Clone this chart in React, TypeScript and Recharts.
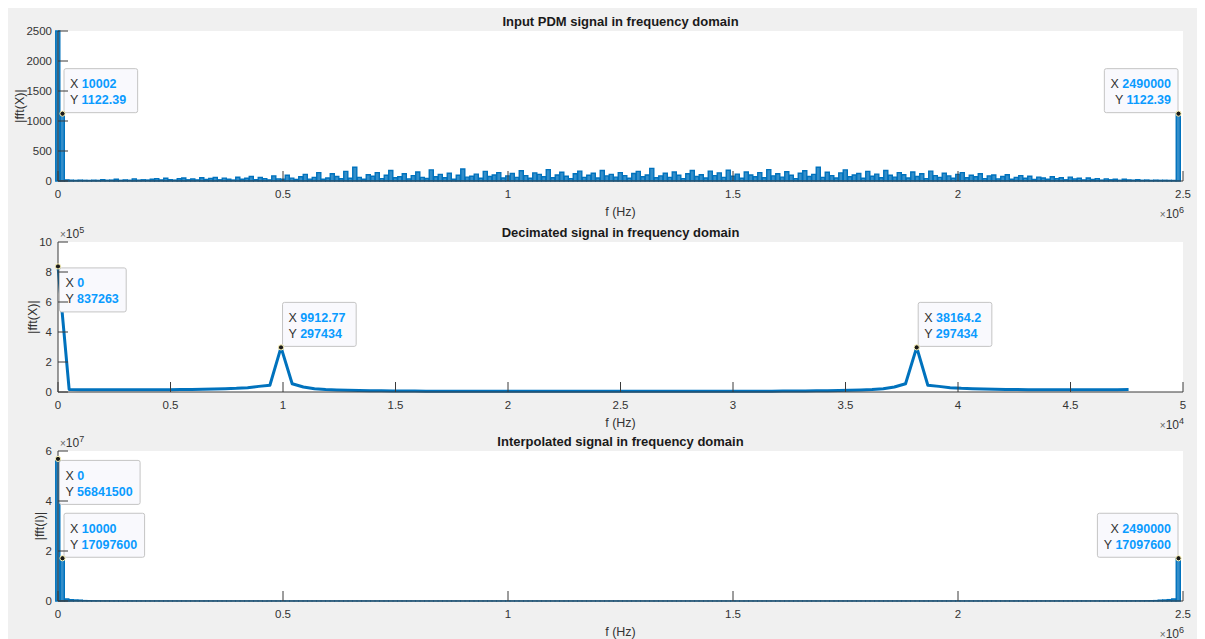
import { Bar, ComposedChart, Line, ReferenceDot, XAxis, YAxis } from "recharts";

// Input PDM spectrum, one bin every 10 kHz (0 .. 2.49 MHz)
const PDM_BIN_HZ = 10000;
const pdmMag = [
  2500, 1122.39, 18, 12, 10, 14, 11, 9, 13, 10,
  22, 12, 15, 30, 11, 18, 12, 35, 14, 20,
  16, 28, 40, 18, 45, 22, 15, 38, 50, 20,
  34, 18, 55, 25, 42, 60, 20, 48, 30, 16,
  62, 28, 45, 75, 22, 58, 40, 18, 85, 35,
  30, 95, 48, 25, 70, 110, 32, 60, 140, 28,
  50, 120, 75, 38, 160, 45, 230, 60, 30, 105,
  80, 140, 40, 95, 175, 55, 70, 120, 35, 90,
  150, 60, 42, 185, 70, 110, 55, 130, 30, 95,
  200, 65, 80, 115, 45, 160, 75, 100, 140, 50,
  85, 125, 60, 170, 90, 45, 135, 110, 70, 190,
  55, 100, 145, 80, 40, 120, 165, 60, 95, 130,
  50, 175, 85, 110, 65, 140, 90, 45, 125, 160,
  70, 100, 210, 55, 85, 130, 60, 150, 95, 40,
  120, 175, 75, 105, 50, 165, 90, 135, 60, 180,
  80, 115, 45, 150, 100, 70, 140, 55, 190, 85,
  120, 65, 155, 95, 40, 130, 170, 75, 110, 230,
  60, 145, 90, 50, 135, 185, 70, 100, 125, 45,
  160, 80, 115, 55, 175, 95, 65, 140, 105, 50,
  150, 75, 120, 40, 165, 90, 60, 130, 85, 45,
  110, 140, 55, 95, 70, 120, 40, 85, 100, 35,
  75, 105, 30, 60, 90, 45, 80, 25, 65, 50,
  30, 70, 40, 55, 20, 65, 35, 45, 18, 50,
  25, 40, 15, 35, 20, 30, 12, 28, 18, 14,
  22, 12, 16, 10, 14, 11, 12, 10, 9, 1122.39,
];

// Decimated spectrum, 97 bins
const DEC_BIN_HZ = 9912.77 / 20;
const decMag = [
  837263,
  17000, 15500, 15000, 14700, 14600, 14600, 14700, 14900, 15200, 15600,
  16100, 16800, 17800, 19200, 21200, 24200, 29000, 37500, 45000, 297434,
  55000, 33000, 22000, 16500, 13200, 11000, 9500, 8400, 7600, 7000,
  6500, 6100, 5800, 5500, 5300, 5100, 5000, 4900, 4800, 4700,
  4600, 4550, 4500, 4450, 4420, 4400, 4390, 4385,
  4385, 4390, 4400, 4420, 4450, 4500, 4550, 4600,
  4700, 4800, 4900, 5000, 5100, 5300, 5500, 5800, 6100, 6500,
  7000, 7600, 8400, 9500, 11000, 13200, 16500, 22000, 33000, 55000,
  297434,
  45000, 37500, 29000, 24200, 21200, 19200, 17800, 16800, 16100,
  15600, 15200, 14900, 14700, 14600, 14600, 14700, 15000, 15500, 17000,
];

// Interpolated spectrum, same 10 kHz bins as the input
const intMag = [
  56841500, 17097600, 820000, 540000, 410000, 330000, 160000, 120000, 95000, 82000,
  74000, 68000, 64000, 60000, 57000, 55000, 53000, 51000, 50000, 49000,
  48000, 46000, 47000, 44000, 45000, 43000, 46000, 42000, 44000, 41000,
  43000, 40000, 42000, 44000, 39000, 41000, 43000, 40000, 38000, 42000,
  39000, 41000, 37000, 40000, 42000, 38000, 36000, 40000, 39000, 37000,
  41000, 38000, 36000, 39000, 37000, 40000, 35000, 38000, 36000, 39000,
  37000, 35000, 38000, 36000, 34000, 37000, 39000, 35000, 36000, 38000,
  34000, 36000, 37000, 35000, 33000, 36000, 38000, 34000, 35000, 37000,
  33000, 35000, 36000, 34000, 32000, 35000, 37000, 33000, 34000, 36000,
  32000, 34000, 35000, 33000, 31000, 34000, 36000, 32000, 33000, 35000,
  31000, 33000, 34000, 32000, 30000, 33000, 35000, 31000, 32000, 34000,
  30000, 32000, 33000, 31000, 30000, 32000, 34000, 31000, 30000, 33000,
  31000, 30000, 32000, 34000, 30000, 31000, 33000, 30000, 32000, 31000,
  33000, 30000, 31000, 34000, 32000, 30000, 33000, 31000, 30000, 32000,
  34000, 31000, 30000, 33000, 32000, 35000, 31000, 33000, 34000, 32000,
  35000, 33000, 31000, 34000, 36000, 32000, 33000, 35000, 34000, 32000,
  36000, 34000, 33000, 35000, 37000, 33000, 34000, 36000, 35000, 33000,
  37000, 35000, 34000, 36000, 38000, 34000, 35000, 37000, 36000, 34000,
  38000, 36000, 35000, 37000, 39000, 35000, 36000, 38000, 40000, 36000,
  39000, 37000, 41000, 38000, 40000, 42000, 38000, 39000, 41000, 43000,
  40000, 42000, 39000, 43000, 41000, 44000, 40000, 42000, 45000, 43000,
  41000, 44000, 42000, 46000, 43000, 45000, 44000, 47000, 45000, 46000,
  47000, 46000, 48000, 45000, 47000, 48000, 46000, 47000, 48000, 49000,
  48000, 49000, 50000, 51000, 53000, 55000, 57000, 60000, 64000, 68000,
  74000, 82000, 95000, 120000, 160000, 330000, 410000, 540000, 820000, 17097600,
];

const pdmXTicks = [0, 500000, 1000000, 1500000, 2000000, 2500000];
const pdmYTicks = [0, 500, 1000, 1500, 2000, 2500];
const decXTicks = [0, 5000, 10000, 15000, 20000, 25000, 30000, 35000, 40000, 45000, 50000];
const decYTicks = [0, 200000, 400000, 600000, 800000, 1000000];
const intYTicks = [0, 20000000, 40000000, 60000000];

type Tip = { f: number; m: number; side: "ur" | "ul" | "dr" };

const pdmTips: Tip[] = [
  { f: 10002, m: 1122.39, side: "ur" },
  { f: 2490000, m: 1122.39, side: "ul" },
];
const decTips: Tip[] = [
  { f: 0, m: 837263, side: "dr" },
  { f: 9912.77, m: 297434, side: "ur" },
  { f: 38164.2, m: 297434, side: "ur" },
];
const intTips: Tip[] = [
  { f: 0, m: 56841500, side: "dr" },
  { f: 10000, m: 17097600, side: "ur" },
  { f: 2490000, m: 17097600, side: "ul" },
];

const pdmData = pdmMag.map((m, i) => ({ f: i * PDM_BIN_HZ, m }));
const decData = decMag.map((m, i) => ({ f: i * DEC_BIN_HZ, m }));
const intData = intMag.map((m, i) => ({ f: i * PDM_BIN_HZ, m }));

const BLUE = "#0072BD";
const AXIS = "#3a3a3a";
const TEXT = "#333";
const FONT = '"Liberation Sans", Arial, Helvetica, sans-serif';

const W = 1198;
const PLOT_L = 51;
const PLOT_R = 1176;
const PLOT_H = 150;
const MARGIN_TOP = 24;
const PANEL_TOPS = [0, 211, 420];
const TICK_LEN = 10;

const fmt = (v: number) => String(+v.toFixed(2));

// MATLAB-style ticks: short marks pointing into the plot box, labels outside
function BottomTick({ x, y, payload, div }: any) {
  return (
    <g>
      <line x1={x} y1={y} x2={x} y2={y - TICK_LEN} stroke={AXIS} />
      <text x={x} y={y + 9} dy="0.71em" textAnchor="middle" fontSize={11.5} fill={TEXT}>
        {fmt(payload.value / div)}
      </text>
    </g>
  );
}

function LeftTick({ x, y, payload, div }: any) {
  return (
    <g>
      <line x1={x} y1={y} x2={x + TICK_LEN} y2={y} stroke={AXIS} />
      <text x={x - 6} y={y} dy="0.355em" textAnchor="end" fontSize={11.5} fill={TEXT}>
        {fmt(payload.value / div)}
      </text>
    </g>
  );
}

function TopTick({ x, y }: any) {
  return <line x1={x} y1={y} x2={x} y2={y + TICK_LEN} stroke={AXIS} />;
}

function RightTick({ x, y }: any) {
  return <line x1={x} y1={y} x2={x - TICK_LEN} y2={y} stroke={AXIS} />;
}

function DataTip({ cx, cy, tip }: { cx: number; cy: number; tip: Tip }) {
  const xs = String(tip.f);
  const ys = String(tip.m);
  const w = 25 + Math.max(xs.length, ys.length) * 6.95;
  const h = 44;
  const alignRight = tip.side === "ul";
  const left = alignRight ? cx - 0.5 - w : cx + 1.5;
  const top = tip.side === "dr" ? cy + 1.5 : cy - 1 - h;
  const tx = alignRight ? left + w - 7 : left + 6;
  const anchor = alignRight ? "end" : "start";
  return (
    <g>
      <rect x={left} y={top} width={w} height={h} rx={2} fill="#f9f9fd" stroke="#c4c4c4" strokeWidth={1} />
      <text x={tx} y={top + 19.5} textAnchor={anchor} fontSize={12.5} fill={TEXT} fontFamily={FONT}>
        X <tspan fontWeight="bold" fill="#0a9bff">{xs}</tspan>
      </text>
      <text x={tx} y={top + 35.5} textAnchor={anchor} fontSize={12.5} fill={TEXT} fontFamily={FONT}>
        Y <tspan fontWeight="bold" fill="#0a9bff">{ys}</tspan>
      </text>
      <circle cx={cx} cy={cy} r={2.6} fill="#1a1a1a" stroke="#fff7b8" strokeWidth={1} />
    </g>
  );
}

type PanelProps = {
  top: number;
  data: { f: number; m: number }[];
  bars: boolean;
  xMax: number;
  xTicks: number[];
  xDiv: number;
  yMax: number;
  yTicks: number[];
  yDiv: number;
  tips: Tip[];
};

function Panel({ top, data, bars, xMax, xTicks, xDiv, yMax, yTicks, yDiv, tips }: PanelProps) {
  const line = { stroke: AXIS };
  return (
    <div style={{ position: "absolute", left: 0, top, width: W, height: 200 }}>
      {/* white axes background sits under the transparent chart svg */}
      <div
        style={{
          position: "absolute",
          left: PLOT_L,
          top: MARGIN_TOP,
          width: PLOT_R - PLOT_L,
          height: PLOT_H,
          background: "#fff",
        }}
      />
      <div style={{ position: "absolute", left: 0, top: 0 }}>
        <ComposedChart
          width={W}
          height={200}
          data={data}
          margin={{ top: MARGIN_TOP, right: W - PLOT_R, bottom: 0, left: 0 }}
        >
          <XAxis
            dataKey="f"
            type="number"
            domain={[0, xMax]}
            ticks={xTicks}
            interval={0}
            height={26}
            tickSize={0}
            tickMargin={0}
            tickLine={false}
            tick={(p: any) => <BottomTick {...p} div={xDiv} />}
            axisLine={line}
          />
          <XAxis
            xAxisId="top"
            orientation="top"
            dataKey="f"
            type="number"
            domain={[0, xMax]}
            ticks={xTicks}
            interval={0}
            allowDataOverflow
            height={0}
            tickSize={0}
            tickMargin={0}
            tickLine={false}
            tick={(p: any) => <TopTick {...p} />}
            axisLine={line}
          />
          <YAxis
            type="number"
            domain={[0, yMax]}
            ticks={yTicks}
            interval={0}
            width={PLOT_L}
            tickSize={0}
            tickMargin={0}
            tickLine={false}
            tick={(p: any) => <LeftTick {...p} div={yDiv} />}
            axisLine={line}
          />
          <YAxis
            yAxisId="right"
            orientation="right"
            type="number"
            domain={[0, yMax]}
            ticks={yTicks}
            interval={0}
            allowDataOverflow
            width={0}
            tickSize={0}
            tickMargin={0}
            tickLine={false}
            tick={(p: any) => <RightTick {...p} />}
            axisLine={line}
          />
          {bars ? (
            <Bar
              dataKey="m"
              barSize={4.5}
              fill={BLUE}
              fillOpacity={0.8}
              stroke={BLUE}
              strokeWidth={1.4}
              isAnimationActive={false}
            />
          ) : (
            <Line
              dataKey="m"
              type="linear"
              stroke={BLUE}
              strokeWidth={3}
              strokeLinejoin="round"
              dot={false}
              isAnimationActive={false}
            />
          )}
          {tips.map((t, i) => (
            <ReferenceDot
              key={i}
              x={t.f}
              y={t.m}
              shape={(p: any) => <DataTip cx={p.cx} cy={p.cy} tip={t} />}
            />
          ))}
        </ComposedChart>
      </div>
    </div>
  );
}

const panels = [
  { title: "Input PDM signal in frequency domain", ylabel: "|fft(X)|", ylabelX: 13, xExp: "6", yExp: "" },
  { title: "Decimated signal in frequency domain", ylabel: "|fft(X)|", ylabelX: 26, xExp: "4", yExp: "5" },
  { title: "Interpolated signal in frequency domain", ylabel: "|fft(I)|", ylabelX: 33, xExp: "6", yExp: "7" },
];

export default function App() {
  const cxPlot = (PLOT_L + PLOT_R) / 2;
  return (
    <div
      style={{
        position: "relative",
        width: W,
        height: 632,
        margin: "-1px 0 0 -1px",
        background: "#f0f0f0",
        fontFamily: FONT,
        overflow: "hidden",
      }}
    >
      <Panel top={PANEL_TOPS[0]} data={pdmData} bars xMax={2500000} xTicks={pdmXTicks} xDiv={1e6}
        yMax={2500} yTicks={pdmYTicks} yDiv={1} tips={pdmTips} />
      <Panel top={PANEL_TOPS[1]} data={decData} bars={false} xMax={50000} xTicks={decXTicks} xDiv={1e4}
        yMax={1000000} yTicks={decYTicks} yDiv={1e5} tips={decTips} />
      <Panel top={PANEL_TOPS[2]} data={intData} bars xMax={2500000} xTicks={pdmXTicks} xDiv={1e6}
        yMax={60000000} yTicks={intYTicks} yDiv={1e7} tips={intTips} />

      <svg width={W} height={632} style={{ position: "absolute", left: 0, top: 0, pointerEvents: "none" }}>
        {panels.map((p, i) => {
          const pt = PANEL_TOPS[i] + MARGIN_TOP;
          const pb = pt + PLOT_H;
          return (
            <g key={i} fontFamily={FONT}>
              <text x={cxPlot} y={pt - 5} textAnchor="middle" fontSize={13} fontWeight="bold" fill="#1a1a1a">
                {p.title}
              </text>
              <text x={cxPlot} y={pb + 35} textAnchor="middle" fontSize={12.5} fill={TEXT}>
                f (Hz)
              </text>
              <text
                x={p.ylabelX}
                y={pt + PLOT_H / 2}
                textAnchor="middle"
                fontSize={12.5}
                fill={TEXT}
                transform={`rotate(-90 ${p.ylabelX} ${pt + PLOT_H / 2})`}
                dy="0.35em"
              >
                {p.ylabel}
              </text>
              <text x={PLOT_R + 1} y={pb + 36.5} textAnchor="end" fontSize={12} fill={TEXT}>
                <tspan fontSize={10} fill="#666">×</tspan>10<tspan dy={-5} fontSize={9}>{p.xExp}</tspan>
              </text>
              {p.yExp && (
                <text x={PLOT_L + 2} y={pt - 4} fontSize={12} fill={TEXT}>
                  <tspan fontSize={10} fill="#666">×</tspan>10<tspan dy={-5} fontSize={9}>{p.yExp}</tspan>
                </text>
              )}
            </g>
          );
        })}
      </svg>
    </div>
  );
}
